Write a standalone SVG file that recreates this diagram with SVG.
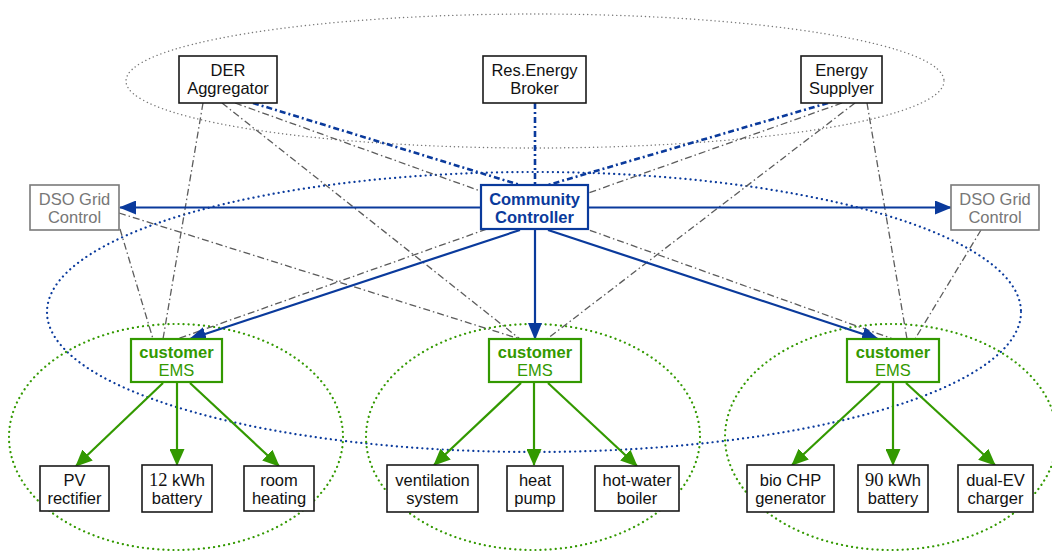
<svg xmlns="http://www.w3.org/2000/svg" width="1052" height="553" viewBox="0 0 1052 553">
  <style>
    text { font-family: "Liberation Sans", Arial, sans-serif; font-size: 16.5px; text-anchor: middle; fill: #111; }
    .num { font-family: "Liberation Serif", "Times New Roman", serif; font-size: 18.5px; }
    .box { fill: #fff; stroke: #1a1a1a; stroke-width: 1.6; }
    .dso rect { fill: #fff; stroke: #7a7a7a; stroke-width: 1.6; }
    .dso text { fill: #777; }
    .cc rect { fill: #fff; stroke: #0a3a9c; stroke-width: 2.2; }
    .cc text { fill: #0a3a9c; font-weight: bold; }
    .ems rect { fill: #fff; stroke: #339900; stroke-width: 2.2; }
    .ems text { fill: #339900; }
    .ems .b { font-weight: bold; }
    .zone-top { fill: none; stroke: #777; stroke-width: 1.4; stroke-dasharray: 0.1 4; stroke-linecap: round; }
    .zone-com { fill: none; stroke: #0a3a9c; stroke-width: 2.2; stroke-dasharray: 0.1 5; stroke-linecap: round; }
    .zone-cust { fill: none; stroke: #339900; stroke-width: 2.2; stroke-dasharray: 0.1 5; stroke-linecap: round; }
    .info { stroke: #5c5c5c; stroke-width: 1.3; stroke-dasharray: 7 3 1.5 3; fill: none; }
    .mkt { stroke: #0a3a9c; stroke-width: 2.6; stroke-dasharray: 6 3 2 3; fill: none; }
    .ctl { stroke: #0a3a9c; stroke-width: 2.2; fill: none; marker-end: url(#ah-blue); }
    .dev { stroke: #339900; stroke-width: 2.2; fill: none; marker-end: url(#ah-green); }
  </style>
  <defs>
    <marker id="ah-blue" markerUnits="userSpaceOnUse" markerWidth="17" markerHeight="14" refX="16" refY="7" orient="auto">
      <path d="M0,0 L17,7 L0,14 z" fill="#0a3a9c"/>
    </marker>
    <marker id="ah-green" markerUnits="userSpaceOnUse" markerWidth="17" markerHeight="15" refX="16" refY="7.5" orient="auto">
      <path d="M0,0 L17,7.5 L0,15 z" fill="#339900"/>
    </marker>
  </defs>

  <rect width="1052" height="553" fill="#fff"/>

  <!-- grouping zones -->
  <g id="zones">
    <ellipse class="zone-top" cx="535" cy="81" rx="409" ry="67"/>
    <ellipse class="zone-com" cx="534" cy="312" rx="487" ry="140"/>
    <ellipse class="zone-cust" cx="176" cy="437" rx="167" ry="113"/>
    <ellipse class="zone-cust" cx="533" cy="437" rx="167" ry="113"/>
    <ellipse class="zone-cust" cx="891" cy="437" rx="166" ry="113"/>
  </g>

  <!-- connectors -->
  <g id="connectors">
    <!-- information links -->
    <line class="info" x1="203" y1="103" x2="163" y2="339"/>
    <line class="info" x1="222" y1="103" x2="520" y2="339"/>
    <line class="info" x1="235" y1="103" x2="893" y2="339"/>
    <line class="info" x1="842" y1="103" x2="177" y2="339"/>
    <line class="info" x1="855" y1="103" x2="547" y2="339"/>
    <line class="info" x1="867" y1="103" x2="907" y2="339"/>
    <line class="info" x1="119" y1="213" x2="520" y2="339"/>
    <line class="info" x1="120" y1="229" x2="153" y2="339"/>
    <line class="info" x1="981" y1="230" x2="915" y2="339"/>
    <!-- market links -->
    <line class="mkt" x1="253" y1="103" x2="520" y2="185"/>
    <line class="mkt" x1="535" y1="103" x2="535" y2="185"/>
    <line class="mkt" x1="828" y1="103" x2="548" y2="185"/>
    <!-- control links -->
    <line class="ctl" x1="481" y1="207.5" x2="120" y2="207.5"/>
    <line class="ctl" x1="588" y1="207.5" x2="951" y2="207.5"/>
    <line class="ctl" x1="520" y1="230" x2="190" y2="339"/>
    <line class="ctl" x1="535" y1="230" x2="535" y2="339"/>
    <line class="ctl" x1="548" y1="230" x2="878" y2="339"/>
    <!-- device links -->
    <line class="dev" x1="163" y1="383" x2="76" y2="466"/>
    <line class="dev" x1="177" y1="383" x2="177" y2="465"/>
    <line class="dev" x1="190" y1="383" x2="279" y2="466"/>
    <line class="dev" x1="521" y1="383" x2="434" y2="465"/>
    <line class="dev" x1="534" y1="383" x2="534" y2="465"/>
    <line class="dev" x1="548" y1="383" x2="637" y2="466"/>
    <line class="dev" x1="880" y1="383" x2="792" y2="465"/>
    <line class="dev" x1="893" y1="383" x2="893" y2="465"/>
    <line class="dev" x1="906" y1="383" x2="995" y2="465"/>
  </g>

  <!-- market actors -->
  <g id="der-aggregator">
    <rect class="box" x="179" y="56" width="98" height="47"/>
    <text x="228" y="76">DER</text>
    <text x="228" y="94">Aggregator</text>
  </g>
  <g id="energy-broker">
    <rect class="box" x="483" y="56" width="103" height="47"/>
    <text x="534.5" y="76">Res.Energy</text>
    <text x="534.5" y="94">Broker</text>
  </g>
  <g id="energy-supplyer">
    <rect class="box" x="801" y="56" width="81" height="47"/>
    <text x="841.5" y="76">Energy</text>
    <text x="841.5" y="94">Supplyer</text>
  </g>

  <!-- grid operators -->
  <g id="dso-left" class="dso">
    <rect x="30" y="185" width="89" height="45"/>
    <text x="74.5" y="204.5">DSO Grid</text>
    <text x="74.5" y="223">Control</text>
  </g>
  <g id="dso-right" class="dso">
    <rect x="951" y="185" width="88" height="45"/>
    <text x="995" y="204.5">DSO Grid</text>
    <text x="995" y="223">Control</text>
  </g>

  <!-- community controller -->
  <g id="community-controller" class="cc">
    <rect x="481" y="185" width="107" height="44"/>
    <text x="534.5" y="204.5">Community</text>
    <text x="534.5" y="223">Controller</text>
  </g>

  <!-- customer energy management systems -->
  <g id="ems-1" class="ems">
    <rect x="131" y="339" width="91" height="43"/>
    <text class="b" x="176.5" y="357.5">customer</text>
    <text x="176.5" y="376">EMS</text>
  </g>
  <g id="ems-2" class="ems">
    <rect x="489" y="339" width="92" height="43"/>
    <text class="b" x="535" y="357.5">customer</text>
    <text x="535" y="376">EMS</text>
  </g>
  <g id="ems-3" class="ems">
    <rect x="847" y="339" width="92" height="43"/>
    <text class="b" x="893" y="357.5">customer</text>
    <text x="893" y="376">EMS</text>
  </g>

  <!-- customer devices -->
  <g id="pv-rectifier">
    <rect class="box" x="40" y="466" width="69" height="45"/>
    <text x="74.5" y="486">PV</text>
    <text x="74.5" y="504">rectifier</text>
  </g>
  <g id="battery-12">
    <rect class="box" x="142" y="465" width="70" height="47"/>
    <text x="177" y="486"><tspan class="num">12</tspan> kWh</text>
    <text x="177" y="504">battery</text>
  </g>
  <g id="room-heating">
    <rect class="box" x="244" y="466" width="70" height="45"/>
    <text x="279" y="486">room</text>
    <text x="279" y="504">heating</text>
  </g>
  <g id="ventilation">
    <rect class="box" x="387" y="465" width="91" height="47"/>
    <text x="432.5" y="486">ventilation</text>
    <text x="432.5" y="504">system</text>
  </g>
  <g id="heat-pump">
    <rect class="box" x="507" y="466" width="56" height="45"/>
    <text x="535" y="486">heat</text>
    <text x="535" y="504">pump</text>
  </g>
  <g id="hot-water-boiler">
    <rect class="box" x="595" y="466" width="84" height="45"/>
    <text x="637" y="486">hot-water</text>
    <text x="637" y="504">boiler</text>
  </g>
  <g id="bio-chp">
    <rect class="box" x="747" y="465" width="87" height="47"/>
    <text x="790.5" y="486">bio CHP</text>
    <text x="790.5" y="504">generator</text>
  </g>
  <g id="battery-90">
    <rect class="box" x="858" y="465" width="70" height="47"/>
    <text x="893" y="486"><tspan class="num">90</tspan> kWh</text>
    <text x="893" y="504">battery</text>
  </g>
  <g id="ev-charger">
    <rect class="box" x="958" y="465" width="75" height="47"/>
    <text x="995.5" y="486">dual-EV</text>
    <text x="995.5" y="504">charger</text>
  </g>
</svg>
